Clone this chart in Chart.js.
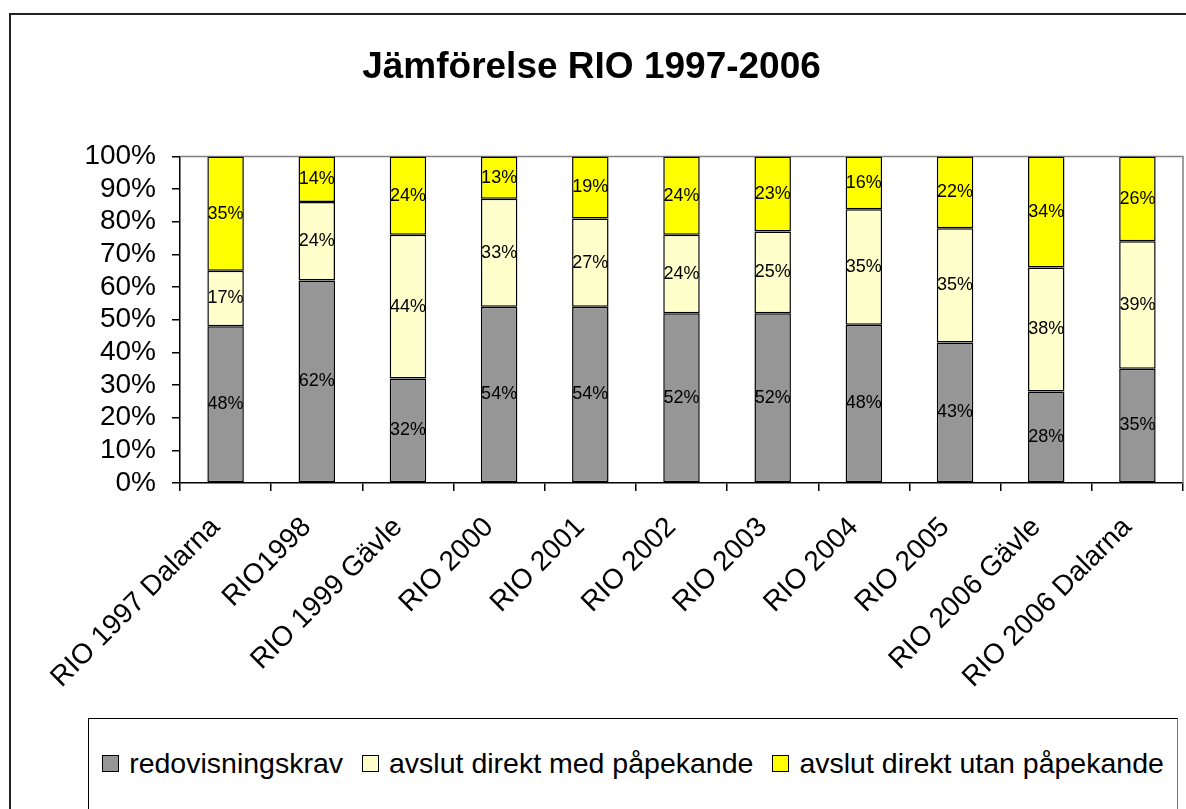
<!DOCTYPE html>
<html>
<head>
<meta charset="utf-8">
<script src="https://cdn.jsdelivr.net/npm/chart.js@4"></script>
<style>
  html, body { margin: 0; padding: 0; background: #fff; overflow: hidden; }
  #wrap { position: relative; width: 1186px; height: 809px; }
  #frame { position: absolute; left: 9px; top: 13px; width: 1300px; height: 1000px; border: 2px solid #222; box-sizing: border-box; }
  #chart { position: absolute; left: 0; top: 0; }
  #legend {
    position: absolute; left: 88px; top: 718px; width: 1090px; height: 200px;
    border: 1.5px solid #000; border-right-color: #777; box-sizing: border-box; background: #fff;
    font-family: "Liberation Sans", Arial, sans-serif; font-size: 28.5px; color: #000;
  }
  #legend .row { position: absolute; left: 0; right: 0; top: 28px; display: flex; justify-content: center; gap: 19px; }
  #legend .item { display: flex; align-items: center; white-space: nowrap; }
  #legend .sw { width: 15px; height: 15px; border: 1.5px solid #000; margin-right: 10px; }
</style>
</head>
<body>
<div id="wrap">
  <div id="frame"></div>
  <canvas id="chart" width="1186" height="809"></canvas>
  <div id="legend"><div class="row" id="legendRow"></div></div>
</div>
<script>
const categories = ['RIO 1997 Dalarna', 'RIO1998', 'RIO 1999 Gävle', 'RIO 2000', 'RIO 2001', 'RIO 2002',
  'RIO 2003', 'RIO 2004', 'RIO 2005', 'RIO 2006 Gävle', 'RIO 2006 Dalarna'];
const seriesNames = ['redovisningskrav', 'avslut direkt med påpekande', 'avslut direkt utan påpekande'];
const redovisningskrav = [48, 62, 32, 54, 54, 52, 52, 48, 43, 28, 35];
const medPapekande = [17, 24, 44, 33, 27, 24, 25, 35, 35, 38, 39];
const utanPapekande = [35, 14, 24, 13, 19, 24, 23, 16, 22, 34, 26];
const yTicks = [0, 10, 20, 30, 40, 50, 60, 70, 80, 90, 100];
const colors = ['#969696', '#FFFFCC', '#FFFF00'];

const FONT = '"Liberation Sans", Arial, sans-serif';
const raw = [redovisningskrav, medPapekande, utanPapekande];
const totals = categories.map((_, i) => raw.reduce((s, a) => s + a[i], 0));

const datasets = raw.map((vals, k) => ({
  label: seriesNames[k],
  data: vals.map((v, i) => v / totals[i] * 100),
  rawValues: vals,
  backgroundColor: colors[k],
  borderColor: '#000',
  borderWidth: 1.5,
  borderSkipped: false,
  barPercentage: 0.4,
  categoryPercentage: 1.0,
}));

// plot area frame: grey top and right edge
const plotFrame = {
  id: 'plotFrame',
  beforeDatasetsDraw(chart) {
    const { ctx, chartArea: a } = chart;
    ctx.save();
    ctx.strokeStyle = '#808080';
    ctx.lineWidth = 1.5;
    ctx.beginPath();
    ctx.moveTo(a.left, a.top);
    ctx.lineTo(a.right, a.top);
    ctx.lineTo(a.right, a.bottom);
    ctx.stroke();
    ctx.restore();
  }
};

// value labels in the middle of each segment
const segLabels = {
  id: 'segLabels',
  afterDatasetsDraw(chart) {
    const { ctx } = chart;
    ctx.save();
    ctx.font = '18px ' + FONT;
    ctx.fillStyle = '#000';
    ctx.textAlign = 'center';
    ctx.textBaseline = 'middle';
    chart.data.datasets.forEach((ds, k) => {
      chart.getDatasetMeta(k).data.forEach((el, i) => {
        ctx.fillText(ds.rawValues[i] + '%', el.x, (el.y + el.base) / 2);
      });
    });
    ctx.restore();
  }
};

new Chart(document.getElementById('chart'), {
  type: 'bar',
  data: { labels: categories, datasets },
  options: {
    responsive: false,
    animation: false,
    layout: { padding: { left: 0, right: 3, top: 0, bottom: 0 } },
    plugins: {
      legend: { display: false },
      tooltip: { enabled: false },
      title: {
        display: true,
        text: 'Jämförelse RIO 1997-2006',
        color: '#000',
        font: { family: FONT, size: 37, weight: 'bold' },
        padding: { top: 46, bottom: 66 },
      },
    },
    scales: {
      x: {
        stacked: true,
        border: { color: '#000', width: 1.5 },
        grid: { drawOnChartArea: false, color: '#000', tickLength: 8, lineWidth: 1.5 },
        ticks: {
          color: '#000', font: { family: FONT, size: 28 },
          minRotation: 45, maxRotation: 45, autoSkip: false, padding: 20, labelOffset: -10,
        },
        afterFit(scale) { scale.height = 326; },
      },
      y: {
        stacked: true,
        min: 0, max: 100,
        afterBuildTicks(scale) { scale.ticks = yTicks.map(v => ({ value: v })); },
        border: { color: '#000', width: 1.5 },
        grid: { drawOnChartArea: false, color: '#000', tickLength: 8, lineWidth: 1.5 },
        ticks: {
          color: '#000', font: { family: FONT, size: 28 }, padding: 16, autoSkip: false,
          callback: v => v + '%',
        },
        afterFit(scale) { scale.width = 180; },
      },
    },
  },
  plugins: [plotFrame, segLabels],
});

const row = document.getElementById('legendRow');
seriesNames.forEach((name, k) => {
  const item = document.createElement('div');
  item.className = 'item';
  const sw = document.createElement('span');
  sw.className = 'sw';
  sw.style.background = colors[k];
  const tx = document.createElement('span');
  tx.textContent = name;
  item.appendChild(sw);
  item.appendChild(tx);
  row.appendChild(item);
});
</script>
</body>
</html>
